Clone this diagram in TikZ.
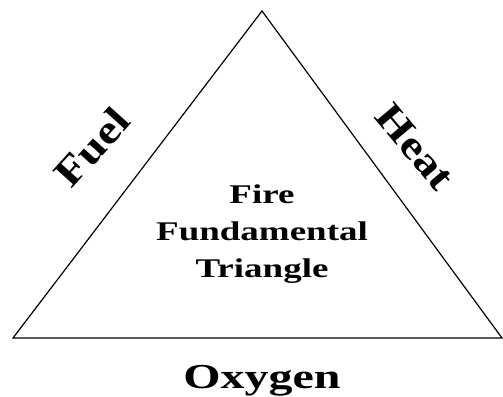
\documentclass[tikz,border=0pt]{standalone}
\usepackage{fontspec}
\setmainfont{Liberation Serif}
\tikzset{
  side/.style={line width=1.2pt, line join=miter},
  wide/.style={xscale=1.37, transform shape, inner sep=0pt},
  slant/.style={xscale=1.2, transform shape, inner sep=0pt,
    font=\bfseries\fontsize{40}{40}\selectfont},
}
\begin{document}
\begin{tikzpicture}[x=1pt,y=1pt]
\useasboundingbox (0,0) rectangle (503,396);
\coordinate (top) at (262,385);
\coordinate (left) at (13,58);
\coordinate (right) at (502,58);
\draw[side] (top) -- (left) -- (right) -- cycle;
% label places
\coordinate (fuelpos) at (92,249);
\coordinate (heatpos) at (415,249);
\coordinate (midpos) at (262,162);
\coordinate (oxypos) at (262,8);
\node[rotate=48, slant] (fuel) at (fuelpos) {Fuel};
\node[rotate=-50, slant] (heat) at (heatpos) {Heat};
\node[wide, align=center, font=\bfseries\fontsize{27}{36.7}\selectfont] (title) at (midpos) {Fire\\Fundamental\\Triangle};
\node[wide, anchor=base, font=\bfseries\fontsize{35}{35}\selectfont] (oxygen) at (oxypos) {Oxygen};
\end{tikzpicture}
\end{document}
